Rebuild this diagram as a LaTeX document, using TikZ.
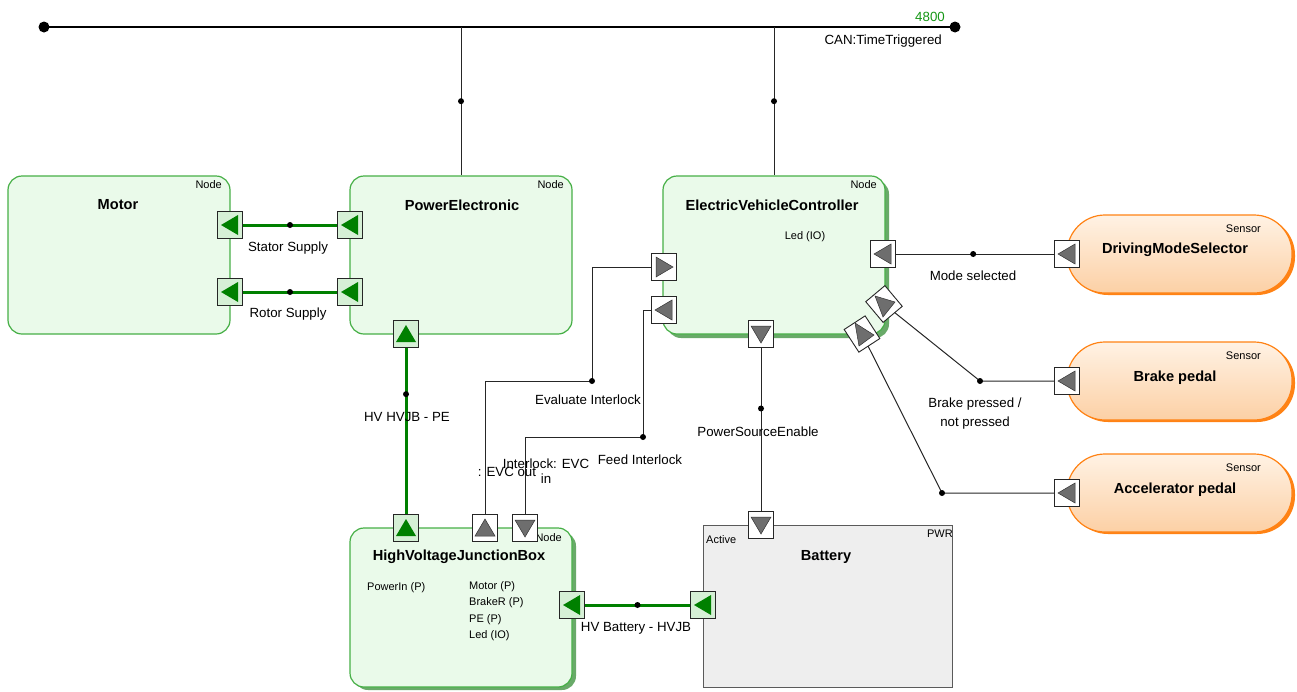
\documentclass[tikz,border=0pt]{standalone}
\usepackage{fontspec}
\setmainfont{Liberation Sans}
\usetikzlibrary{calc}
\pgfdeclarelayer{bg}\pgfdeclarelayer{mid}\pgfsetlayers{bg,mid,main}
\definecolor{gborder}{RGB}{70,175,70}
\definecolor{gfill}{RGB}{234,250,234}
\definecolor{gshadow}{RGB}{105,170,105}
\definecolor{gline}{RGB}{0,128,0}
\definecolor{gportfill}{RGB}{214,240,214}
\definecolor{tri}{RGB}{110,110,110}
\definecolor{oborder}{RGB}{255,130,20}
\definecolor{otop}{RGB}{255,242,228}
\definecolor{obot}{RGB}{252,208,165}
\definecolor{bfill}{RGB}{238,238,238}
\definecolor{bborder}{RGB}{90,90,90}
\definecolor{cangreen}{RGB}{20,150,20}
\newcommand{\ptri}[3]{\begin{scope}[shift={(#1.center)},rotate=#2]\filldraw[#3] (-9,0) -- (8,-10) -- (8,10) -- cycle;\end{scope}}
\newcommand{\ptriv}[5]{\begin{scope}[shift={(#1.center)}]\filldraw[#2] (#3) -- (#4) -- (#5) -- cycle;\end{scope}}
\begin{document}
\begin{tikzpicture}[x=1pt,y=-1pt,
  lbl/.style={font=\fontsize{13.3}{15}\selectfont, inner sep=0},
  ttl/.style={font=\fontsize{14.6}{16}\selectfont\bfseries, inner sep=0},
  sml/.style={font=\fontsize{11}{12}\selectfont, inner sep=0},
  gbox/.style={draw=gborder, fill=gfill, line width=1.2pt, rounded corners=14pt, minimum width=222pt, minimum height=158pt, inner sep=0},
  bbox/.style={draw=bborder, fill=bfill, line width=1pt, minimum width=249pt, minimum height=162pt, inner sep=0},
  sbox/.style={draw=oborder, top color=otop, bottom color=obot, line width=1.2pt, rounded corners=38pt, minimum width=225pt, minimum height=78pt, inner sep=0},
  port/.style={draw=black!85, line width=0.9pt, minimum width=25pt, minimum height=27pt, inner sep=0},
  gport/.style={port, fill=gportfill},
  wport/.style={port, fill=white},
  gtri/.style={fill=gline, draw=none},
  wtri/.style={fill=tri, draw=black!80, line width=0.5pt},
  gconn/.style={draw=gline, line width=3pt},
  conn/.style={draw=black!85, line width=1pt},
  dot/.style={circle, fill=black, inner sep=0, minimum size=6pt},
  bigdot/.style={circle, fill=black, inner sep=0, minimum size=11pt}
]
\useasboundingbox (0,0) rectangle (1297,691);

% ---------- boxes ----------
\begin{pgfonlayer}{bg}
\fill[gshadow, rounded corners=14pt] (667,180) rectangle (889,338);
\fill[gshadow, rounded corners=14pt] (354,532) rectangle (576,690);
\node[gbox] (M) at (119,255) {};
\node[gbox] (PE) at (461,255) {};
\node[gbox] (EVC) at (774,255) {};
\node[gbox, minimum height=159pt] (HJ) at (461,607.5) {};
\node[bbox] (BAT) at (827.5,606) {};
\fill[oborder, rounded corners=38pt] (1070,217) rectangle (1295,295);
\fill[oborder, rounded corners=38pt] (1070,344) rectangle (1295,422);
\fill[oborder, rounded corners=38pt] (1070,456) rectangle (1295,534);
\node[sbox] (DMS) at (1179.5,254) {};
\node[sbox] (BP) at (1179.5,381) {};
\node[sbox] (AP) at (1179.5,493) {};
\end{pgfonlayer}

% ---------- texts in boxes ----------
\node[ttl] (tM) at (118,205) {Motor};
\node[ttl] (tPE) at (462,205) {PowerElectronic};
\node[ttl] (tEVC) at (772,205) {ElectricVehicleController};
\node[ttl] (tHJ) at (459,557) {HighVoltageJunctionBox};
\node[ttl] (tBAT) at (826,557) {Battery};
\node[ttl] (tDMS) at (1175,250) {DrivingModeSelector};
\node[ttl] (tBP) at (1175,378) {Brake pedal};
\node[ttl] (tAP) at (1175,490) {Accelerator pedal};
\node[sml, anchor=east] (nM) at (222,185) {Node};
\node[sml, anchor=east] (nPE) at (564,185) {Node};
\node[sml, anchor=east] (nEVC) at (877,185) {Node};
\node[sml, anchor=east] (nHJ) at (562,538) {Node};
\node[sml, anchor=east] (nBAT) at (953,534) {PWR};
\node[sml, anchor=west] (aBAT) at (706,540) {Active};
\node[sml, anchor=east] (sDMS) at (1261,229) {Sensor};
\node[sml, anchor=east] (sBP) at (1261,356) {Sensor};
\node[sml, anchor=east] (sAP) at (1261,468) {Sensor};
\node[sml] (led) at (805,237) {Led (IO)};
\node[sml, anchor=west] (pin) at (367,588) {PowerIn (P)};
\node[sml, anchor=north west, align=left, font=\fontsize{11}{16.5}\selectfont] (plist) at (469,581) {Motor (P)\\BrakeR (P)\\PE (P)\\Led (IO)};

% ---------- ports ----------
\node[gport] (M1) at (230,225) {}; \ptri{M1}{0}{gtri}
\node[gport] (M2) at (230,292) {}; \ptri{M2}{0}{gtri}
\node[gport] (P1) at (350,225) {}; \ptri{P1}{0}{gtri}
\node[gport] (P2) at (350,292) {}; \ptri{P2}{0}{gtri}
\node[gport] (P3) at (406,334) {}; \ptri{P3}{-90}{gtri}
\node[gport] (H1) at (406,528) {}; \ptri{H1}{-90}{gtri}
\node[wport] (H2) at (485,528) {}; \ptri{H2}{-90}{wtri}
\node[wport] (H3) at (525,528) {}; \ptri{H3}{90}{wtri}
\node[gport] (H4) at (572,605) {}; \ptri{H4}{0}{gtri}
\node[gport] (B1) at (703,605) {}; \ptri{B1}{0}{gtri}
\node[wport] (B2) at (761,525) {}; \ptri{B2}{90}{wtri}
\node[wport] (E1) at (664,267) {}; \ptri{E1}{180}{wtri}
\node[wport] (E2) at (664,310) {}; \ptri{E2}{0}{wtri}
\node[wport] (E3) at (761,334) {}; \ptri{E3}{90}{wtri}
\node[wport] (E4) at (883,254) {}; \ptri{E4}{0}{wtri}
\node[wport, rotate=40] (E5) at (884,304) {}; \ptriv{E5}{wtri}{-9,-8}{11,-2}{-1,13}
\node[wport, rotate=33] (E6) at (862,334) {}; \ptriv{E6}{wtri}{-7,-11}{-3,12}{12,1}
\node[wport] (S1) at (1067,254) {}; \ptri{S1}{0}{wtri}
\node[wport] (S2) at (1067,381) {}; \ptri{S2}{0}{wtri}
\node[wport] (S3) at (1067,493) {}; \ptri{S3}{0}{wtri}

% ---------- connectors ----------
\coordinate (busL) at (44,27);
\coordinate (busR) at (955,27);
\coordinate (c1) at (592,381);
\coordinate (c2) at (643,437);
\coordinate (c3) at (980,381);
\coordinate (c4) at (942,493);
\begin{pgfonlayer}{mid}
\draw[line width=2.2pt] (busL) -- (busR);
\draw[conn] (PE.north |- busL) -- (PE.north) node[dot, pos=.5] (dv1) {};
\draw[conn] (EVC.north |- busL) -- (EVC.north) node[dot, pos=.5] (dv2) {};
\draw[gconn] (M1.center) -- (P1.center) node[dot, pos=.5] (d1) {};
\draw[gconn] (M2.center) -- (P2.center) node[dot, pos=.5] (d2) {};
\draw[gconn] (P3.center) -- (H1.center) node[dot, pos=.31] (d3) {};
\draw[gconn] (H4.center) -- (B1.center) node[dot, pos=.5] (d4) {};
\draw[conn] (E3.center) -- (B2.center) node[dot, pos=.39] (d5) {};
\draw[conn] (E1.center) -| (c1) -| (H2.center);
\draw[conn] (E2.center) -| (c2) -| (H3.center);
\draw[conn] (E4.center) -- (S1.center) node[dot, pos=.49] (d6) {};
\draw[conn] (E5.center) -- (c3) -- (S2.center);
\draw[conn] (E6.center) -- (c4) -- (S3.center);
\end{pgfonlayer}
\node[bigdot] (dbL) at (busL) {};
\node[bigdot] (dbR) at (busR) {};
\node[dot] (dc1) at (c1) {};
\node[dot] (dc2) at (c2) {};
\node[dot] (dc3) at (c3) {};
\node[dot] (dc4) at (c4) {};

% ---------- connector labels ----------
\node[lbl, text=cangreen, anchor=east] (l4800) at (945,17) {4800};
\node[lbl, anchor=east] (lcan) at (942,41) {CAN:TimeTriggered};
\node[lbl] (lst) at (288,248) {Stator Supply};
\node[lbl] (lro) at (288,314) {Rotor Supply};
\node[lbl] (lhv) at (407,417) {HV HVJB - PE};
\node[lbl] (lev) at (588,400) {Evaluate Interlock};
\node[lbl] (lfe) at (640,460) {Feed Interlock};
\node[lbl] (lout) at (507,472) {: EVC out};
\node[lbl, align=center] (lin) at (546,471) {Interlock: EVC\\in};
\node[lbl] (lpse) at (758,432) {PowerSourceEnable};
\node[lbl] (lms) at (973,276) {Mode selected};
\node[lbl, align=center, font=\fontsize{13.3}{19}\selectfont] (lbr) at (975,414) {Brake pressed /\\not pressed};
\node[lbl] (lhb) at (636,628) {HV Battery - HVJB};
\end{tikzpicture}
\end{document}
